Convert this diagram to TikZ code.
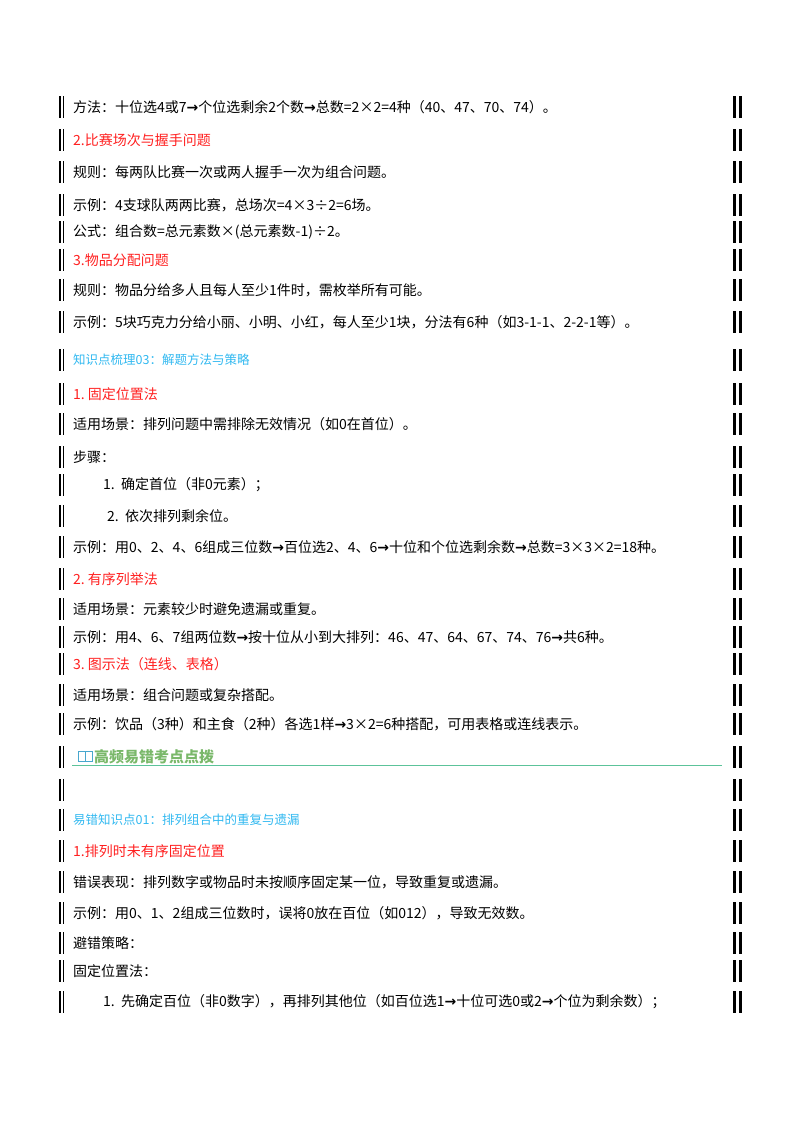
\documentclass[tikz,border=0pt]{standalone}
\usepackage{fontspec}
\setmainfont{Noto Sans CJK SC}
\newfontfamily\arfont{DejaVu Sans}
\newcommand\myar{{\arfont\bfseries →}}
\definecolor{hred}{HTML}{FF2020}
\definecolor{hcyan}{HTML}{30B8F0}
\definecolor{hgreen}{HTML}{7AB86A}
\definecolor{hline}{HTML}{5CC39A}
\begin{document}
\begin{tikzpicture}[x=1pt,y=-1pt,
  t/.style={anchor=west,inner sep=0pt,font=\fontsize{14}{16}\selectfont},
  red/.style={t,text=hred},
  cy/.style={t,text=hcyan,font=\fontsize{12.5}{14}\selectfont},
  bar/.style={fill=black}]
\useasboundingbox (0,0) rectangle (800,1132);
\foreach \y in {107,140,172,205,232,260,290,322,360,394,424,457,485,516,547,579,609,637,664,695,724,757,790,820,851,882,913,943,971,1002}{
  \fill[bar] (58.5,\y-11) rectangle (61,\y+11);
  \fill[bar] (62.5,\y-11) rectangle (64,\y+11);
  \fill[bar] (732.5,\y-11) rectangle (736,\y+11);
  \fill[bar] (738.5,\y-11) rectangle (742,\y+11);
}
\node[t] (a1) at (73,107) {方法：十位选4或7\myar 个位选剩余2个数\myar 总数=2×2=4种（40、47、70、74）。};
\node[red] (a2) at (73,140) {2.比赛场次与握手问题};
\node[t] (a3) at (73,172) {规则：每两队比赛一次或两人握手一次为组合问题。};
\node[t] (a4) at (73,205) {示例：4支球队两两比赛，总场次=4×3÷2=6场。};
\node[t] (a5) at (73,232) {公式：组合数=总元素数×(总元素数-1)÷2。};
\node[red] (a6) at (73,260) {3.物品分配问题};
\node[t] (a7) at (73,290) {规则：物品分给多人且每人至少1件时，需枚举所有可能。};
\node[t] (a8) at (73,322) {示例：5块巧克力分给小丽、小明、小红，每人至少1块，分法有6种（如3-1-1、2-2-1等）。};
\node[cy] (b1) at (73,360) {知识点梳理03：解题方法与策略};
\node[red] (b2) at (73,394) {1.\ 固定位置法};
\node[t] (b3) at (73,424) {适用场景：排列问题中需排除无效情况（如0在首位）。};
\node[t] (b4) at (73,457) {步骤：};
\node[t] (b5) at (103,485) {1.\ \ 确定首位（非0元素）；};
\node[t] (b6) at (107,516) {2.\ \ 依次排列剩余位。};
\node[t] (b7) at (73,547) {示例：用0、2、4、6组成三位数\myar 百位选2、4、6\myar 十位和个位选剩余数\myar 总数=3×3×2=18种。};
\node[red] (b8) at (73,579) {2.\ 有序列举法};
\node[t] (b9) at (73,609) {适用场景：元素较少时避免遗漏或重复。};
\node[t] (b10) at (73,637) {示例：用4、6、7组两位数\myar 按十位从小到大排列：46、47、64、67、74、76\myar 共6种。};
\node[red] (b11) at (73,664) {3.\ 图示法（连线、表格）};
\node[t] (b12) at (73,695) {适用场景：组合问题或复杂搭配。};
\node[t] (b13) at (73,724) {示例：饮品（3种）和主食（2种）各选1样\myar 3×2=6种搭配，可用表格或连线表示。};
% header
\draw[hline,line width=0.8pt] (72,765) -- (722,765);
\draw[hcyan!70!gray,line width=0.8pt] (78,751) rectangle (85,761) (85,751) rectangle (92,761);
\node[anchor=west,inner sep=0pt,text=hgreen,font=\fontsize{15}{17}\selectfont\bfseries] (h) at (94,757) {高频易错考点点拨};
\node[cy] (c1) at (73,820) {易错知识点01：排列组合中的重复与遗漏};
\node[red] (c2) at (73,851) {1.排列时未有序固定位置};
\node[t] (c3) at (73,882) {错误表现：排列数字或物品时未按顺序固定某一位，导致重复或遗漏。};
\node[t] (c4) at (73,913) {示例：用0、1、2组成三位数时，误将0放在百位（如012），导致无效数。};
\node[t] (c5) at (73,943) {避错策略：};
\node[t] (c6) at (73,971) {固定位置法：};
\node[t] (c7) at (103,1002) {1.\ \ 先确定百位（非0数字），再排列其他位（如百位选1\myar 十位可选0或2\myar 个位为剩余数）；};
\end{tikzpicture}
\end{document}
